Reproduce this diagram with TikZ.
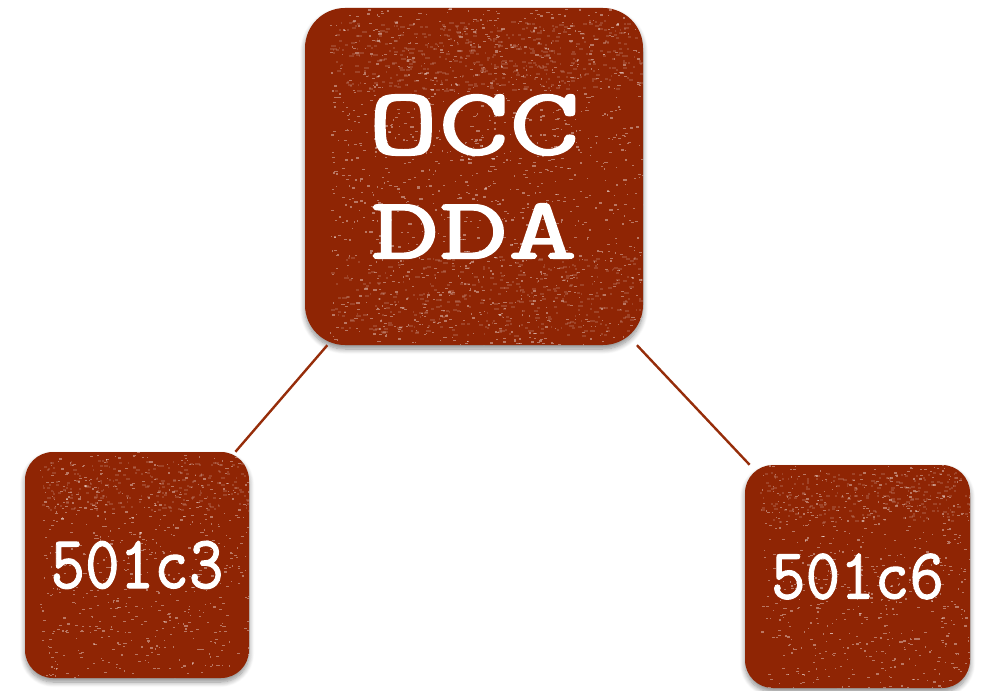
\documentclass[tikz,border=0pt]{standalone}
\usepackage{fontspec}
\usepackage{graphicx}
\newfontfamily\typ{Latin Modern Mono}[BoldFont={Latin Modern Mono},BoldFeatures={FakeBold=1.3}]
\usetikzlibrary{shadows.blur}
\definecolor{rust}{RGB}{143,37,4}
\definecolor{linkcol}{RGB}{150,45,10}
\begin{document}
\begin{tikzpicture}[x=1pt,y=-1pt,
  tile/.style={fill=rust, rounded corners=#1, inner sep=0pt, text=white,
    font=\typ\bfseries, align=center,
    blur shadow={shadow xshift=0pt, shadow yshift=-4pt, shadow blur steps=8, shadow opacity=45, shadow blur radius=5pt}},
  link/.style={draw=linkcol, line width=2.4pt},
  speck/.style={fill=white, opacity=0.38},
  blot/.style={fill=white, opacity=0.14}]
\useasboundingbox (0,0) rectangle (984,690);
\node[tile=40pt, minimum width=338pt, minimum height=337pt] (top) at (474,176.5)
  {\resizebox{212pt}{60pt}{OCC}\\[47pt]\resizebox{206pt}{55pt}{DDA}};
\node[tile=28pt, minimum width=224pt, minimum height=226pt] (left) at (137,565)
  {\resizebox{173pt}{47pt}{501c3}};
\node[tile=28pt, minimum width=225pt, minimum height=223pt] (right) at (857.5,576.5)
  {\resizebox{173pt}{45pt}{501c6}};
\pgfmathsetseed{7}
% texture of the big tile
\begin{scope}
  \clip[rounded corners=40pt] (top.north west) rectangle (top.south east);
  \foreach \i in {1,...,1300}{
    \pgfmathsetmacro\px{330+313*rnd}
    \pgfmathsetmacro\py{8+337*rnd}
    \pgfmathsetmacro\pw{0.8+2.8*rnd}
    \fill[speck] (\px,\py) rectangle ++(\pw,1.3);
  }
  \foreach \i in {1,...,500}{
    \pgfmathsetmacro\px{330+313*rnd}
    \pgfmathsetmacro\py{20+70*rnd}
    \pgfmathsetmacro\pw{1+4*rnd}
    \fill[blot] (\px,\py) rectangle ++(\pw,2);
  }
  \foreach \i in {1,...,400}{
    \pgfmathsetmacro\px{330+313*rnd}
    \pgfmathsetmacro\py{255+80*rnd}
    \pgfmathsetmacro\pw{1+4*rnd}
    \fill[blot] (\px,\py) rectangle ++(\pw,2);
  }
\end{scope}
\begin{scope}
  \clip[rounded corners=28pt] (left.north west) rectangle (left.south east);
  \foreach \i in {1,...,650}{
    \pgfmathsetmacro\px{40+209*rnd}
    \pgfmathsetmacro\py{452+226*rnd}
    \pgfmathsetmacro\pw{0.8+2.5*rnd}
    \fill[speck] (\px,\py) rectangle ++(\pw,1.2);
  }
  \foreach \i in {1,...,250}{
    \pgfmathsetmacro\px{40+209*rnd}
    \pgfmathsetmacro\py{460+50*rnd}
    \pgfmathsetmacro\pw{1+3*rnd}
    \fill[blot] (\px,\py) rectangle ++(\pw,2);
  }
\end{scope}
\begin{scope}
  \clip[rounded corners=28pt] (right.north west) rectangle (right.south east);
  \foreach \i in {1,...,650}{
    \pgfmathsetmacro\px{760+210*rnd}
    \pgfmathsetmacro\py{465+223*rnd}
    \pgfmathsetmacro\pw{0.8+2.5*rnd}
    \fill[speck] (\px,\py) rectangle ++(\pw,1.2);
  }
  \foreach \i in {1,...,250}{
    \pgfmathsetmacro\px{760+210*rnd}
    \pgfmathsetmacro\py{472+50*rnd}
    \pgfmathsetmacro\pw{1+3*rnd}
    \fill[blot] (\px,\py) rectangle ++(\pw,2);
  }
\end{scope}
\draw[link] (top.229) -- (left.49);
\draw[link] (top.314) -- (right.134);
\end{tikzpicture}
\end{document}
